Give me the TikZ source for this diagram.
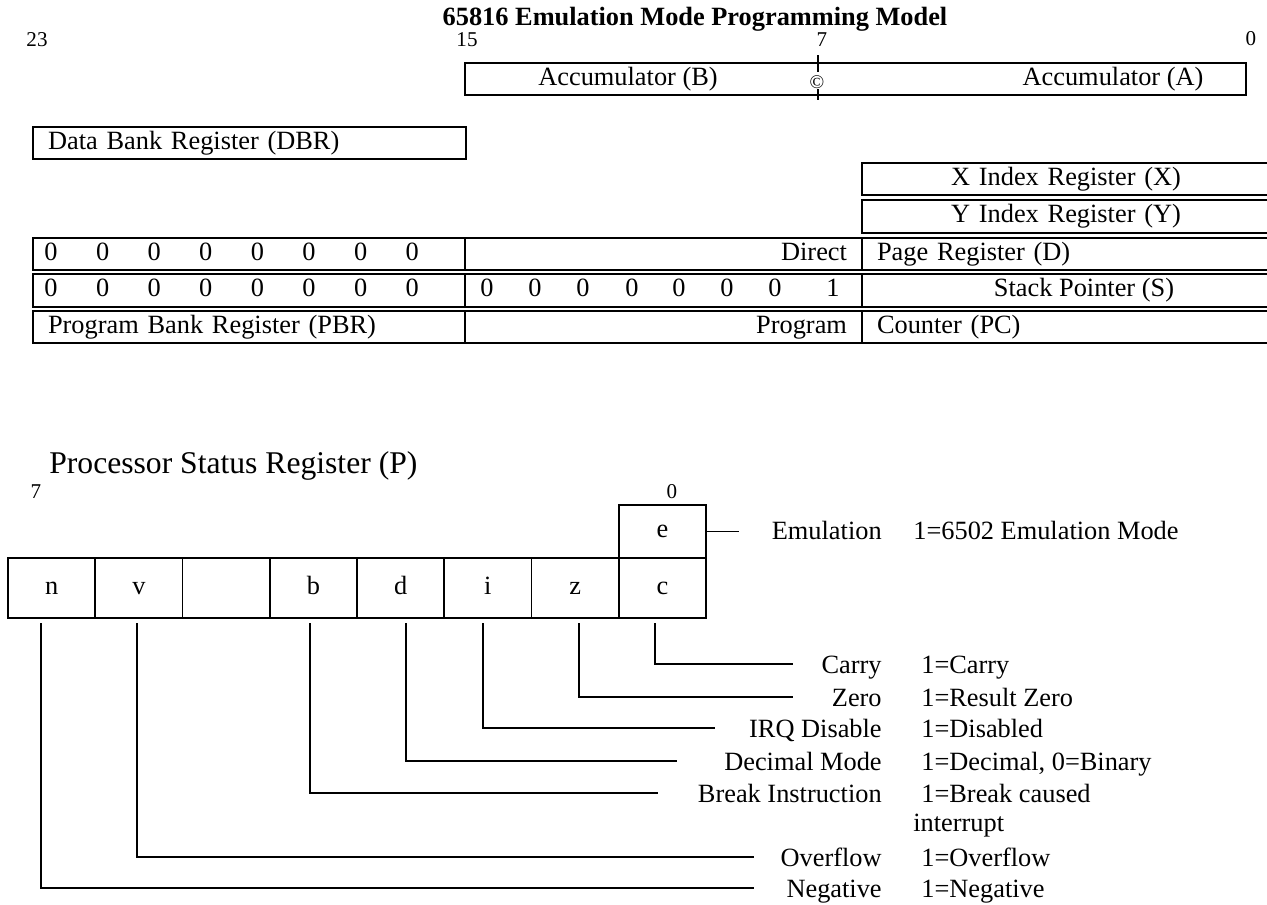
\documentclass[tikz,border=0pt]{standalone}
\usepackage{fontspec}
\setmainfont{Liberation Serif}
\usepackage{tikz}
\usetikzlibrary{positioning}
\newcommand{\regfont}{\fontsize{15}{18}\selectfont}
\tikzset{
  reg/.style={draw, line width=1.1pt, minimum height=0.65cm, inner xsep=0.3cm, inner ysep=0pt, font=\regfont, execute at begin node=\strut},
  lbl/.style={inner sep=0pt, font=\regfont, execute at begin node=\strut},
  bitno/.style={inner sep=0pt, font=\fontsize{12}{14}\selectfont},
  flagcell/.style={draw, line width=1.1pt, minimum width=1.745cm, minimum height=1.2cm, inner sep=0pt, font=\regfont, execute at begin node=\strut},
  wire/.style={line width=0.85pt},
  flagline/.style={wire, shorten <=2.3pt},
}
\begin{document}
\begin{tikzpicture}[x=0.02cm, y=-0.02cm]
  \useasboundingbox (0,0) rectangle (1267,904);

  % title and bit numbers
  \node[inner sep=0pt, font=\regfont\bfseries] (title) at (695,19) {65816 Emulation Mode Programming Model};
  \node[bitno] (n23) at (37,40)   {23};
  \node[bitno] (n15) at (467,40)  {15};
  \node[bitno] (n7)  at (822,40)  {7};
  \node[bitno] (n0)  at (1251,39) {0};

  % accumulator
  \node[reg, minimum width=15.62cm] (acc) at (855.5,79) {};
  \node[lbl] (accB) at (628,79) {Accumulator (B)};
  \node[lbl] (accA) at (1113,79) {Accumulator (A)};
  \node[inner sep=0pt, font=\fontsize{11}{12}\selectfont] (cmark) at (817,82) {\textcopyright};
  \draw[wire] (818,55) -- (818,72) (818,89) -- (818,100);

  % bank and index registers
  \node[reg, text width=8.06cm, align=left]   (dbr)  at (249.5,143) {Data Bank Register (DBR)};
  \node[reg, text width=7.56cm, align=center] (xreg) at (1066,179)  {X Index Register (X)};
  \node[reg, text width=7.56cm, align=center] (yreg) at (1066,216.5) {Y Index Register (Y)};

  % direct page
  \node[reg, minimum width=8.64cm] (dhi) at (249,254) {};
  \foreach \i in {0,...,7}
    \node[lbl] (dz\i) at ({51+51.6*\i},254) {0};
  \node[reg, text width=7.34cm, align=right] (dmid) at (663.5,254) {Direct};
  \node[reg, text width=7.56cm, align=left]  (dreg) at (1066,254)  {Page Register (D)};

  % stack pointer
  \node[reg, minimum width=8.64cm] (shi)  at (249,290.5)   {};
  \node[reg, minimum width=7.94cm] (smid) at (663.5,290.5) {};
  \node[reg, minimum width=8.16cm] (sreg) at (1066,290.5)  {};
  \foreach \i in {0,...,7}
    \node[lbl] (sz\i) at ({51+51.6*\i},290.5) {0};
  \foreach \x [count=\i] in {487,535,583,632,679,727,775}
    \node[lbl] (mz\i) at (\x,290.5) {0};
  \node[lbl] (mone) at (833,290.5) {1};
  \node[lbl] (stxt) at (1084,290.5) {Stack Pointer (S)};

  % program counter
  \node[reg, text width=8.04cm, align=left]  (pbr)  at (249,327)   {Program Bank Register (PBR)};
  \node[reg, text width=7.34cm, align=right] (pmid) at (663.5,327) {Program};
  \node[reg, text width=7.56cm, align=left]  (pc)   at (1066,327)  {Counter (PC)};

  % status register
  \node[anchor=west, inner sep=0pt, font=\fontsize{18}{21}\selectfont] (ptitle) at (49,466) {Processor Status Register (P)};
  \node[bitno] (p7) at (36,492)  {7};
  \node[bitno] (p0) at (672,492) {0};
  \node[flagcell, minimum height=1.06cm] (be) at (662.4,531.5) {e};
  \node[flagcell] (bn) at (51.6,588)  {n};
  \node[flagcell] (bv) at (138.9,588) {v};
  \node[flagcell] (bx) at (226.1,588) {};
  \node[flagcell] (bb) at (313.4,588) {b};
  \node[flagcell] (bd) at (400.6,588) {d};
  \node[flagcell] (bi) at (487.9,588) {i};
  \node[flagcell] (bz) at (575.1,588) {z};
  \node[flagcell] (bc) at (662.4,588) {c};

  % flag names and meanings
  \node[lbl, anchor=east] (lemu) at (882,533) {Emulation};
  \node[lbl, anchor=west] (vemu) at (913,533) {1=6502 Emulation Mode};
  \node[lbl, anchor=east] (lc) at (882,667) {Carry};
  \node[lbl, anchor=west] (vc) at (921,667) {1=Carry};
  \node[lbl, anchor=east] (lz) at (882,700) {Zero};
  \node[lbl, anchor=west] (vz) at (921,700) {1=Result Zero};
  \node[lbl, anchor=east] (li) at (882,731) {IRQ Disable};
  \node[lbl, anchor=west] (vi) at (921,731) {1=Disabled};
  \node[lbl, anchor=east] (ld) at (882,764) {Decimal Mode};
  \node[lbl, anchor=west] (vd) at (921,764) {1=Decimal, 0=Binary};
  \node[lbl, anchor=east] (lb) at (882,796) {Break Instruction};
  \node[lbl, anchor=west] (vb) at (921,796) {1=Break caused};
  \node[lbl, anchor=west] (vb2) at (913,825) {interrupt};
  \node[lbl, anchor=east] (lv) at (882,860) {Overflow};
  \node[lbl, anchor=west] (vv) at (921,860) {1=Overflow};
  \node[lbl, anchor=east] (ln) at (882,891) {Negative};
  \node[lbl, anchor=west] (vn) at (921,891) {1=Negative};

  \coordinate (emuEnd) at (739,531.5);
  \coordinate (cEnd) at (793,664);
  \coordinate (zEnd) at (793,697);
  \coordinate (iEnd) at (715,728);
  \coordinate (dEnd) at (677,761);
  \coordinate (bEnd) at (658,793);
  \coordinate (vEnd) at (754,857);
  \coordinate (nEnd) at (754,888);

  \draw[wire] (be.east) -- (emuEnd);
  \draw[flagline] ([xshift=-0.148cm]bc.south) |- (cEnd);
  \draw[flagline] ([xshift=0.078cm]bz.south) |- (zEnd);
  \draw[flagline] ([xshift=-0.098cm]bi.south) |- (iEnd);
  \draw[flagline] ([xshift=0.108cm]bd.south) |- (dEnd);
  \draw[flagline] ([xshift=-0.068cm]bb.south) |- (bEnd);
  \draw[flagline] ([xshift=-0.038cm]bv.south) |- (vEnd);
  \draw[flagline] ([xshift=-0.212cm]bn.south) |- (nEnd);
\end{tikzpicture}
\end{document}
